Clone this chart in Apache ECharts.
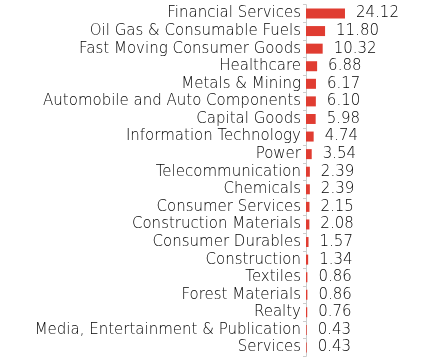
<!DOCTYPE html>
<html><head><meta charset="utf-8">
<script src="https://cdn.jsdelivr.net/npm/echarts@6/dist/echarts.min.js"></script>
<style>html,body{margin:0;padding:0;background:#fff}#c{width:433px;height:362px}</style>
</head><body><div id="c"></div>
<script>
const categories = ["Financial Services","Oil Gas & Consumable Fuels","Fast Moving Consumer Goods","Healthcare","Metals & Mining","Automobile and Auto Components","Capital Goods","Information Technology","Power","Telecommunication","Chemicals","Consumer Services","Construction Materials","Consumer Durables","Construction","Textiles","Forest Materials","Realty","Media, Entertainment & Publication","Services"];
const values = [24.12,11.80,10.32,6.88,6.17,6.10,5.98,4.74,3.54,2.39,2.39,2.15,2.08,1.57,1.34,0.86,0.86,0.76,0.43,0.43];
const chart = echarts.init(document.getElementById('c'));
const font = {fontFamily:'DejaVu Sans',fontWeight:200,fontSize:15,color:'#000'};
chart.setOption({
  animation:false,
  grid:{left:306,right:10,top:4.7,bottom:5.7,containLabel:false},
  xAxis:{type:'value',min:0,max:72.4,show:false},
  yAxis:{type:'category',data:categories,inverse:true,
    axisLine:{lineStyle:{color:'#ccc'}},
    axisTick:{show:true,length:3,lineStyle:{color:'#ccc'}},
    axisLabel:Object.assign({interval:0,margin:5},font)},
  series:[{type:'bar',data:values,barWidth:10,itemStyle:{color:'#E03C31'},
    label:Object.assign({show:true,position:'right',distance:11,formatter:p=>p.value.toFixed(2)},font)}]
});
</script></body></html>
